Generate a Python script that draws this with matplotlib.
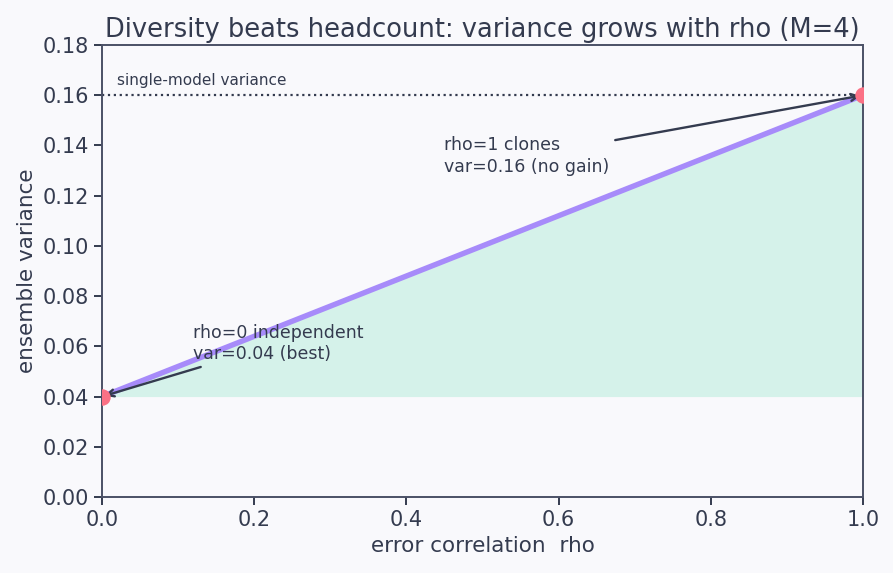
import matplotlib
matplotlib.use("Agg")
import matplotlib.pyplot as plt

# values
rho = [0.0, 0.25, 0.5, 0.75, 1.0]
ens_var = [0.04, 0.07, 0.10, 0.13, 0.16]
single_var = 0.16
best_var = 0.04
end_rho = [0.0, 1.0]
end_var = [0.04, 0.16]

bg = "#f9f9fc"
ink = "#343b4f"
spine = "#4b5166"

fig = plt.figure(figsize=(8.93, 5.73), dpi=100, facecolor=bg)
ax = fig.add_axes([102/893, 76/573, 761/893, 452/573])
ax.set_facecolor(bg)

ax.fill_between(rho, best_var, ens_var, color="#34d399", alpha=0.18, lw=0)
ax.plot(rho, ens_var, color="#a78bfa", lw=3.9, solid_capstyle="butt", zorder=3)
ax.axhline(single_var, color=ink, ls=":", lw=1.6, zorder=2)
ax.scatter(end_rho, end_var, s=140, color="#fb7185", zorder=4, lw=0)

ax.text(0.02, 0.164, "single-model variance", fontsize=11, color=ink)

ax.annotate("rho=1 clones\nvar=0.16 (no gain)", xy=(1.0, 0.16), xytext=(0.45, 0.1295),
            fontsize=12.5, color=ink, linespacing=1.25,
            arrowprops=dict(arrowstyle="->", color=ink, lw=1.7))
ax.annotate("rho=0 independent\nvar=0.04 (best)", xy=(0.0, 0.04), xytext=(0.12, 0.0548),
            fontsize=12.5, color=ink, linespacing=1.25,
            arrowprops=dict(arrowstyle="->", color=ink, lw=1.7))

ax.set_xlim(0, 1)
ax.set_ylim(0, 0.18)
ax.set_xticks([0, 0.2, 0.4, 0.6, 0.8, 1.0])
ax.set_yticks([i * 0.02 for i in range(10)])
ax.yaxis.set_major_formatter(matplotlib.ticker.FormatStrFormatter("%.2f"))
ax.xaxis.set_major_formatter(matplotlib.ticker.FormatStrFormatter("%.1f"))
ax.tick_params(colors=ink, labelsize=15, length=6, width=1.4)
for s in ax.spines.values():
    s.set_color(spine)
    s.set_linewidth(1.4)

ax.set_title("Diversity beats headcount: variance grows with rho (M=4)", fontsize=18.5, color=ink, pad=6)
ax.set_xlabel("error correlation  rho", fontsize=15.5, color=ink)
ax.set_ylabel("ensemble variance", fontsize=15.5, color=ink)

fig.savefig("out.png", dpi=100, facecolor=bg)
